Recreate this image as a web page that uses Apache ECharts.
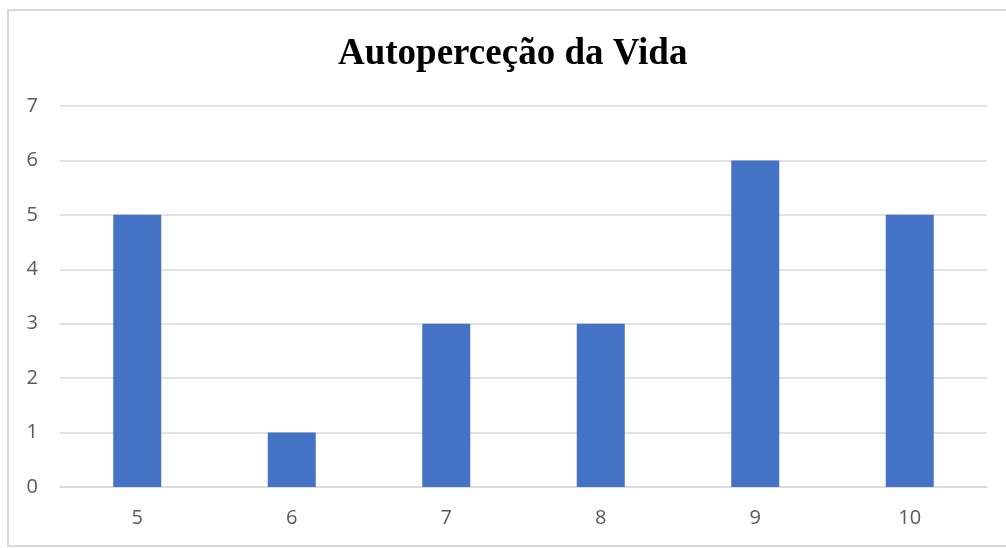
<!DOCTYPE html>
<html>
<head>
<meta charset="utf-8">
<script src="https://cdn.jsdelivr.net/npm/echarts@6/dist/echarts.min.js"></script>
<style>
  html, body { margin: 0; padding: 0; background: #fff; }
  #chart { width: 1006px; height: 548px; }
</style>
</head>
<body>
<div id="chart"></div>
<script>
var categories = ['5', '6', '7', '8', '9', '10'];
var counts = [5, 1, 3, 3, 6, 5];
var chartTitle = 'Autoperceção da Vida';

var chart = echarts.init(document.getElementById('chart'));
chart.setOption({
    animation: false,
    title: {
        text: chartTitle,
        left: 333,
        top: 31,
        textStyle: {
            fontFamily: 'Liberation Serif',
            fontWeight: 'bold',
            fontSize: 37,
            color: '#000'
        }
    },
    graphic: [{
        type: 'rect',
        shape: { x: 8, y: 10, width: 1010, height: 536 },
        style: { fill: 'none', stroke: '#d9d9d9', lineWidth: 2 },
        silent: true
    }],
    grid: { left: 60, right: 19, top: 106, bottom: 61 },
    xAxis: {
        type: 'category',
        data: categories,
        axisTick: { show: false },
        axisLine: { lineStyle: { color: '#d9d9d9', width: 1.5 } },
        axisLabel: { color: '#595959', fontSize: 20, fontFamily: 'Open Sans', margin: 21 }
    },
    yAxis: {
        type: 'value',
        min: 0,
        max: 7,
        interval: 1,
        axisLine: { show: false },
        axisTick: { show: false },
        axisLabel: { color: '#595959', fontSize: 20, fontFamily: 'Open Sans', margin: 22 },
        splitLine: { lineStyle: { color: '#d9d9d9', width: 1.5 } }
    },
    series: [{
        type: 'bar',
        data: counts,
        barWidth: 48,
        itemStyle: { color: '#4472c4' }
    }]
});
</script>
</body>
</html>
